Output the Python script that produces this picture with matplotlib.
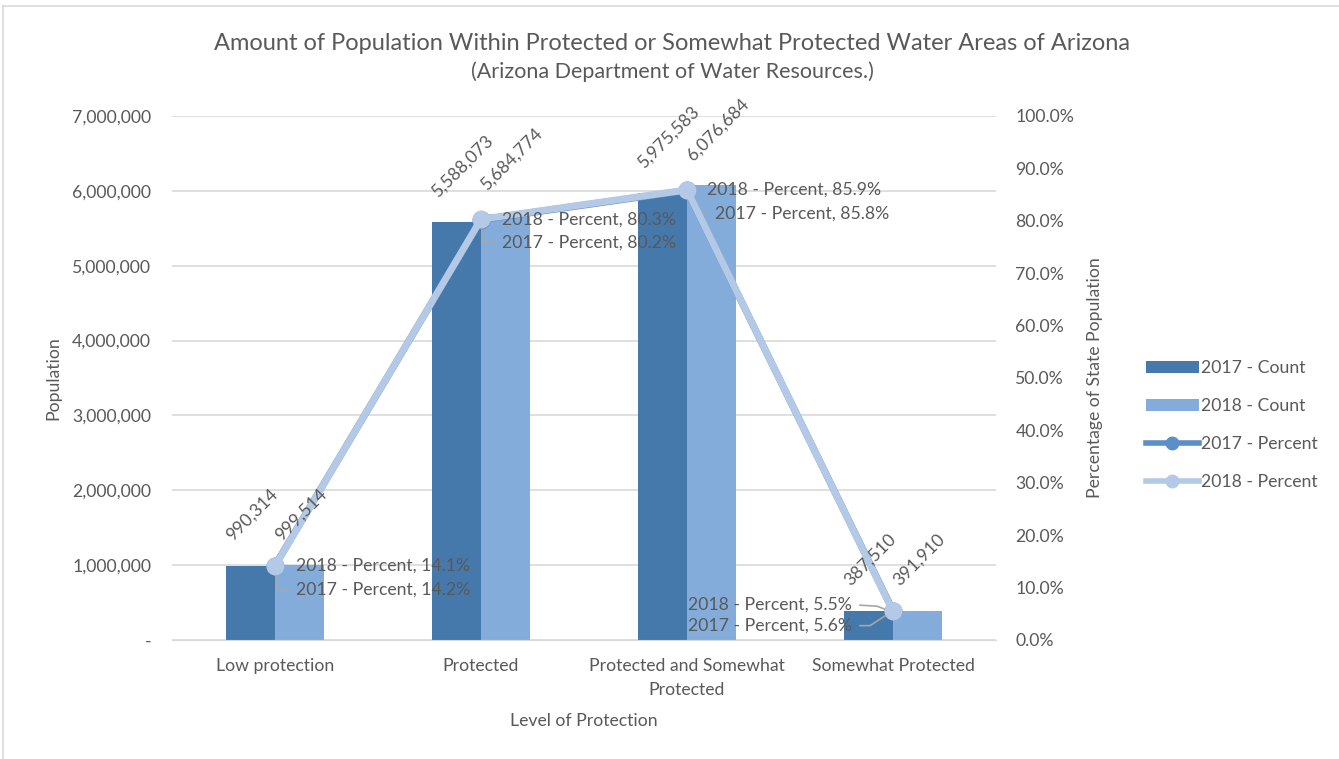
import matplotlib
matplotlib.use("Agg")
import matplotlib.pyplot as plt
from matplotlib.lines import Line2D
from matplotlib.patches import Patch
from matplotlib.ticker import FuncFormatter, MultipleLocator

plt.rcParams['font.family'] = ['Lato', 'DejaVu Sans']

categories = ["Low protection", "Protected", "Protected and Somewhat\nProtected", "Somewhat Protected"]
count_2017 = [990314, 5588073, 5975583, 387510]
count_2018 = [999514, 5684774, 6076684, 391910]
pct_2017 = [14.2, 80.2, 85.8, 5.6]
pct_2018 = [14.1, 80.3, 85.9, 5.5]

TXT = "#595959"
DARK = "#4679ab"
LIGHT = "#84acdb"
LINE17 = "#5b8fc9"
LINE18 = "#b4c9e6"
GRID = "#d9d9d9"
LEADER = "#a6a6a6"
FS = 12.7

W, H = 1339, 759
fig = plt.figure(figsize=(W / 100, H / 100), dpi=100)
ax = fig.add_axes([172 / W, 1 - 640 / H, (996 - 172) / W, (640 - 116) / H])
ax2 = ax.twinx()

x = list(range(len(categories)))
bw = 0.238
xs17 = [i - bw / 2 for i in x]
xs18 = [i + bw / 2 for i in x]
ax.bar(xs17, count_2017, width=bw, color=DARK, zorder=2)
ax.bar(xs18, count_2018, width=bw, color=LIGHT, zorder=2)

ax.set_xlim(-0.5, len(categories) - 0.5)
ax.set_ylim(0, 7_000_000)
ax.yaxis.set_major_locator(MultipleLocator(1_000_000))
ax.yaxis.set_major_formatter(FuncFormatter(lambda v, p: "-" if v == 0 else f"{v:,.0f}"))
ax.grid(axis='y', color=GRID, lw=1.2, zorder=0)
ax.set_axisbelow(True)
for s in ["top", "left", "right"]:
    ax.spines[s].set_visible(False)
    ax2.spines[s].set_visible(False)
ax.spines["bottom"].set_color(GRID)
ax2.spines["bottom"].set_visible(False)
ax.tick_params(axis='both', length=0, labelsize=FS, colors=TXT)
ax.tick_params(axis='y', pad=15)
ax.tick_params(axis='x', pad=13)
ax.set_xticks(x)
ax.set_xticklabels(categories, linespacing=1.6)

ax2.set_ylim(0, 100)
ax2.yaxis.set_major_locator(MultipleLocator(10))
ax2.yaxis.set_major_formatter(FuncFormatter(lambda v, p: f"{v:.1f}%"))
ax2.tick_params(axis='y', length=0, labelsize=FS, colors=TXT, pad=14)

ax2.plot(x, pct_2017, color=LINE17, lw=5, marker='o', ms=12, zorder=3)
ax2.plot(x, pct_2018, color=LINE18, lw=5, marker='o', ms=12, zorder=4)

# rotated value labels above each bar, drawn on top of the percent line
for xs, vals in ((xs17, count_2017), (xs18, count_2018)):
    for xi, v in zip(xs, vals):
        ax2.annotate(f"{v:,}", (xi, v), xycoords=ax.transData, xytext=(-15.5, 20),
                     textcoords='offset points', rotation=45, rotation_mode='anchor',
                     ha='left', va='center', fontsize=FS, color=TXT, zorder=6)

pt = 72 / 100
lab = dict(fontsize=FS, color=TXT, va='center', zorder=6)


def leader(i, val, path):
    """Draw a polyline given as pixel offsets (right, down) from the marker."""
    trans = ax2.transData
    px, py = trans.transform((i, val))
    inv = trans.inverted()
    coords = [inv.transform((px + dx, py - dy)) for dx, dy in path]
    ax2.plot([c[0] for c in coords], [c[1] for c in coords], color=LEADER, lw=1.2, zorder=2.5)


# Low protection
ax2.annotate(f"2018 - Percent, {pct_2018[0]}%", (0, pct_2018[0]), xytext=(21 * pt, 0),
             textcoords='offset points', ha='left', **lab)
ax2.annotate(f"2017 - Percent, {pct_2017[0]}%", (0, pct_2017[0]), xytext=(21 * pt, -24 * pt),
             textcoords='offset points', ha='left', **lab)
leader(0, pct_2017[0], [(2, 5), (2, 24), (13, 24)])

# Protected
ax2.annotate(f"2018 - Percent, {pct_2018[1]}%", (1, pct_2018[1]), xytext=(21 * pt, 0),
             textcoords='offset points', ha='left', **lab)
ax2.annotate(f"2017 - Percent, {pct_2017[1]}%", (1, pct_2017[1]), xytext=(21 * pt, -23 * pt),
             textcoords='offset points', ha='left', **lab)
leader(1, pct_2017[1], [(1, 5), (1, 23), (13, 23)])

# Protected and Somewhat Protected
ax2.annotate(f"2018 - Percent, {pct_2018[2]}%", (2, pct_2018[2]), xytext=(20 * pt, 0),
             textcoords='offset points', ha='left', **lab)
ax2.annotate(f"2017 - Percent, {pct_2017[2]}%", (2, pct_2017[2]), xytext=(28 * pt, -23 * pt),
             textcoords='offset points', ha='left', **lab)
leader(2, pct_2017[2], [(1, 5), (10, 23), (20, 23)])

# Somewhat Protected
ax2.annotate(f"2018 - Percent, {pct_2018[3]}%", (3, pct_2018[3]), xytext=(-41 * pt, 7 * pt),
             textcoords='offset points', ha='right', **lab)
ax2.annotate(f"2017 - Percent, {pct_2017[3]}%", (3, pct_2017[3]), xytext=(-41 * pt, -15 * pt),
             textcoords='offset points', ha='right', **lab)
leader(3, pct_2018[3], [(-33, -6), (-16, -5), (-3, 0)])
leader(3, pct_2017[3], [(-33, 15), (-23, 15), (-3, 2)])

ax.set_xlabel("Level of Protection", fontsize=FS, color=TXT, labelpad=11)
ax.set_ylabel("Population", fontsize=FS, color=TXT, labelpad=8)
ax2.set_ylabel("Percentage of State Population", fontsize=FS, color=TXT, labelpad=9)

fig.text(672 / W, 1 - 43 / H, "Amount of Population Within Protected or Somewhat Protected Water Areas of Arizona",
         ha='center', va='center', fontsize=17, color=TXT)
fig.text(672 / W, 1 - 72 / H, "(Arizona Department of Water Resources.)",
         ha='center', va='center', fontsize=15.5, color=TXT)

handles = [
    Patch(facecolor=DARK, edgecolor='none'),
    Patch(facecolor=LIGHT, edgecolor='none'),
    Line2D([], [], color=LINE17, lw=4, marker='o', ms=9),
    Line2D([], [], color=LINE18, lw=4, marker='o', ms=9),
]
labels = ["2017 - Count", "2018 - Count", "2017 - Percent", "2018 - Percent"]
fig.legend(handles, labels, loc='center left', bbox_to_anchor=(1130 / W, 1 - 425 / H),
           frameon=False, fontsize=FS, labelcolor=TXT, handlelength=3.0, handleheight=0.65,
           labelspacing=1.25, handletextpad=0.15)

# outer chart border
fig.add_artist(Line2D([3 / W, 1], [1 - 6 / H, 1 - 6 / H], color=GRID, lw=1.2, transform=fig.transFigure))
fig.add_artist(Line2D([3 / W, 3 / W], [0, 1 - 6 / H], color=GRID, lw=1.2, transform=fig.transFigure))

fig.savefig("out.png", dpi=100)
